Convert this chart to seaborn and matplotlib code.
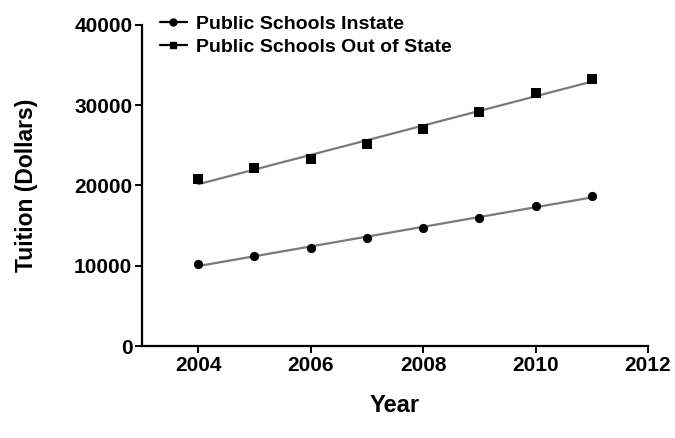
import matplotlib
matplotlib.use("Agg")
import matplotlib.pyplot as plt
from matplotlib.lines import Line2D
import numpy as np
import pandas as pd
import seaborn as sns

# Average annual tuition at public schools
years = [2004, 2005, 2006, 2007, 2008, 2009, 2010, 2011]
instate = [10200, 11250, 12250, 13500, 14650, 15900, 17450, 18700]
out_of_state = [20800, 22200, 23250, 25150, 27100, 29100, 31550, 33250]
series_names = ["Public Schools Instate", "Public Schools Out of State"]
x_ticks = [2004, 2006, 2008, 2010, 2012]
y_ticks = [0, 10000, 20000, 30000, 40000]

sns.set_style("ticks")
plt.rcParams["font.family"] = ["Liberation Sans", "DejaVu Sans"]
plt.rcParams["font.weight"] = "bold"
plt.rcParams["text.color"] = "black"
plt.rcParams["axes.labelcolor"] = "black"

df = pd.DataFrame({"Year": years, "Instate": instate, "OutOfState": out_of_state})

fig = plt.figure(figsize=(6.75, 4.38), dpi=100)
ax = fig.add_axes([0.2104, 0.210, 0.7496, 0.733])

line_kws = dict(color="#7a7a7a", lw=1.6, zorder=2)
sns.regplot(data=df, x="Year", y="Instate", ax=ax, ci=None, marker="o",
            scatter_kws=dict(color="black", s=44, zorder=3, linewidths=0, alpha=1),
            line_kws=line_kws)
sns.regplot(data=df, x="Year", y="OutOfState", ax=ax, ci=None, marker="s",
            scatter_kws=dict(color="black", s=50, zorder=3, linewidths=0, alpha=1),
            line_kws=line_kws)

ax.set_xlim(2003, 2012)
ax.set_ylim(0, 40000)
ax.set_xticks(x_ticks)
ax.set_yticks(y_ticks)
ax.tick_params(axis="both", labelsize=15, width=1.4, length=5, color="black",
               labelcolor="black", pad=2)
for lbl in ax.get_xticklabels() + ax.get_yticklabels():
    lbl.set_fontweight("bold")
for side in ("left", "bottom"):
    ax.spines[side].set_linewidth(1.6)
    ax.spines[side].set_color("black")
sns.despine(ax=ax)

ax.set_xlabel("Year", fontsize=17, fontweight="bold", labelpad=14)
ax.set_ylabel("Tuition (Dollars)", fontsize=16.5, fontweight="bold", labelpad=26)

handles = [
    Line2D([], [], color="black", lw=1.6, marker="o", markersize=5),
    Line2D([], [], color="black", lw=1.6, marker="s", markersize=5),
]
leg = ax.legend(handles, series_names, loc="upper left", frameon=False,
                bbox_to_anchor=(0.0, 1.085), handlelength=1.4,
                handletextpad=0.5, labelspacing=0.3,
                prop=dict(size=14, weight="bold"))

fig.savefig("out.png", dpi=100, facecolor="white")
